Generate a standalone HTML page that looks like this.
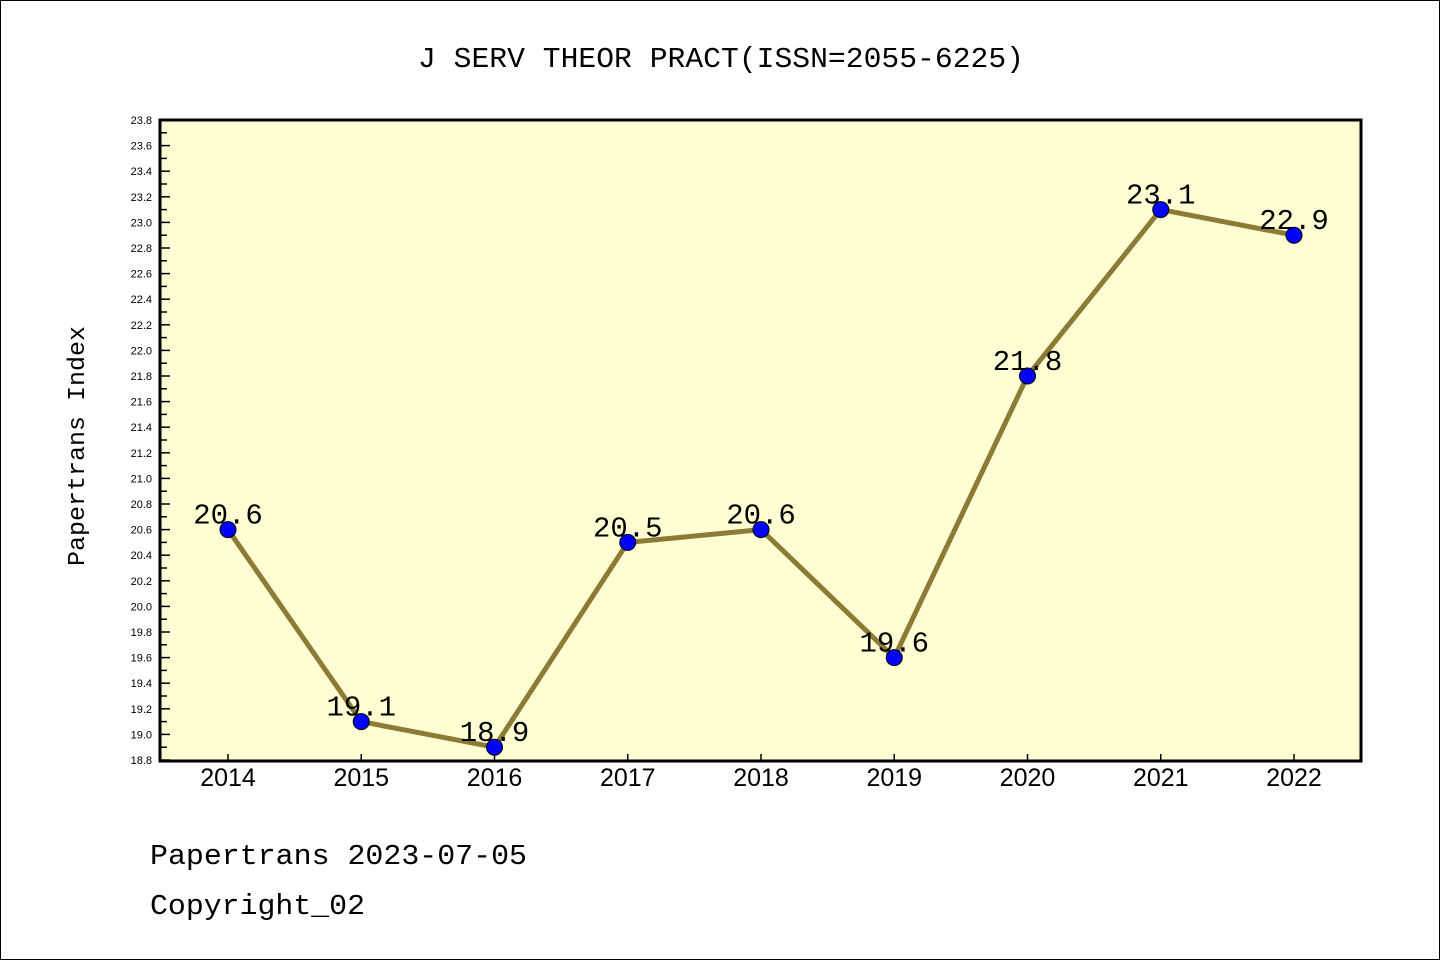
<!DOCTYPE html>
<html><head><meta charset="utf-8"><style>
html,body{margin:0;padding:0;background:#fff}
svg{display:block;font-family:"Liberation Mono","Noto Sans CJK SC",monospace}
</style></head><body>
<svg id="chart" width="1440" height="960" viewBox="0 0 1440 960">
<rect x="0.5" y="0.5" width="1439" height="959" fill="#fff" stroke="#000"/>
<text x="418" y="67" textLength="606" lengthAdjust="spacingAndGlyphs" font-size="29">J SERV THEOR PRACT(ISSN=2055-6225)</text>
<rect x="160" y="120" width="1201" height="641" fill="#ffffd3"/>
<g id="yticks"></g><g id="xticks"></g><g id="series"></g>
<rect x="160" y="120" width="1201" height="641" fill="none" stroke="#000" stroke-width="3"/>
<text transform="translate(84,446) rotate(-90)" text-anchor="middle" font-size="24" textLength="240" lengthAdjust="spacingAndGlyphs">Papertrans Index</text>
<text x="150" y="864" font-size="29" textLength="377" lengthAdjust="spacingAndGlyphs">Papertrans 2023-07-05</text>
<text x="150" y="914" font-size="29" textLength="215" lengthAdjust="spacingAndGlyphs">Copyright_02</text>
</svg>
<script>
const years = ["2014","2015","2016","2017","2018","2019","2020","2021","2022"];
const values = [20.6,19.1,18.9,20.5,20.6,19.6,21.8,23.1,22.9];
const yMin = 18.8, yMax = 23.8;
const NS="http://www.w3.org/2000/svg";
function yS(v){return 760-(v-yMin)/(yMax-yMin)*640;}
function xS(i){return 228+i*133.25;}
function mk(t,a,p){const e=document.createElementNS(NS,t);for(const k in a)e.setAttribute(k,a[k]);p.appendChild(e);return e;}
const yt=document.getElementById('yticks');
for(let k=0;k<=50;k++){
  const v=yMin+k*0.1, y=yS(v), major=k%2===0;
  const l=mk('line',{x1:160,x2:160+(major?10:7),y1:y,y2:y,stroke:'#000','stroke-width':1.5},yt);
  
  
  if(major){const t=mk('text',{x:152,y:y+4,'text-anchor':'end','font-size':11,'font-family':'Liberation Sans, sans-serif'},yt);t.textContent=v.toFixed(1);
  
  }
}
const xt=document.getElementById('xticks');
years.forEach((yr,i)=>{
  const x=xS(i);
  const l=mk('line',{x1:x,x2:x,y1:761,y2:754,stroke:'#000','stroke-width':1.5},xt);
  
  
  const t=mk('text',{x:x,y:786,'text-anchor':'middle','font-size':25,'font-family':'Liberation Sans, sans-serif'},xt);t.textContent=yr;
  
  
});
const s=document.getElementById('series');
const pl=mk('polyline',{points:values.map((v,i)=>xS(i)+','+yS(v)).join(' '),fill:'none',stroke:'#8b7b35','stroke-width':5,'stroke-linejoin':'round'},s);


values.forEach((v,i)=>{
  const c=mk('circle',{cx:xS(i),cy:yS(v),r:8,fill:'#0000ff',stroke:'#000','stroke-width':1},s);
  
  
  const t=mk('text',{x:xS(i),y:yS(v)-6,'text-anchor':'middle','font-size':29},s);t.textContent=v.toFixed(1);
  
  
});
</script>
</body></html>
